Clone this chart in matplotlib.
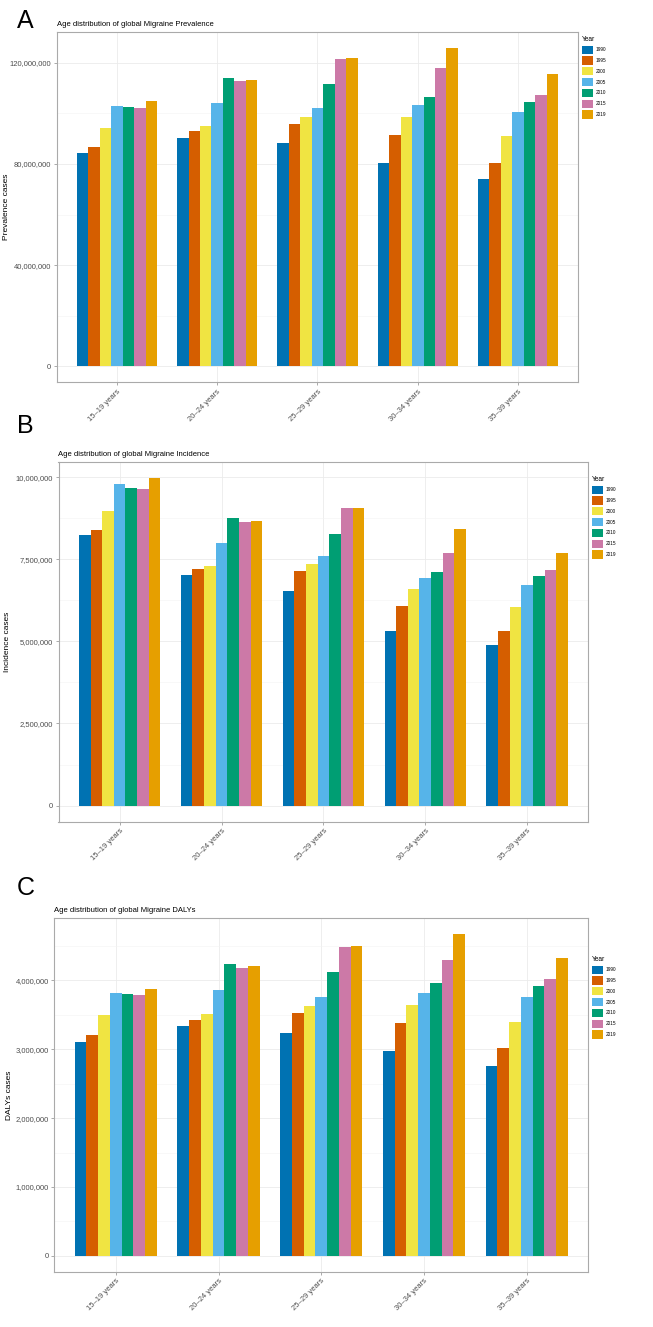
import numpy as np
import matplotlib.pyplot as plt
import matplotlib.ticker as ticker
from matplotlib.patches import Patch

plt.rcParams['font.family'] = ['Liberation Sans', 'DejaVu Sans']

age_groups = ["15–19 years", "20–24 years", "25–29 years", "30–34 years", "35–39 years"]
years = ["1990", "1995", "2000", "2005", "2010", "2015", "2019"]
year_colors = ["#0072B2", "#D55E00", "#F0E442", "#56B4E9", "#009E73", "#CC79A7", "#E69F00"]

# values in millions, one row per year, one column per age group
prevalence = [
    [84.3, 90.1, 88.2, 80.5, 74.0],
    [86.7, 92.9, 95.9, 91.6, 80.5],
    [94.2, 94.9, 98.5, 98.5, 91.2],
    [102.8, 104.2, 102.2, 103.4, 100.4],
    [102.5, 113.9, 111.6, 106.6, 104.6],
    [102.0, 112.6, 121.3, 118.0, 107.4],
    [104.7, 113.3, 122.0, 125.8, 115.7],
]
incidence = [
    [8.25, 7.02, 6.52, 5.32, 4.90],
    [8.39, 7.20, 7.15, 6.08, 5.32],
    [8.96, 7.30, 7.35, 6.60, 6.05],
    [9.78, 7.98, 7.60, 6.93, 6.70],
    [9.67, 8.76, 8.27, 7.10, 6.98],
    [9.63, 8.63, 9.05, 7.70, 7.18],
    [9.96, 8.65, 9.05, 8.43, 7.70],
]
dalys = [
    [3.11, 3.33, 3.24, 2.97, 2.76],
    [3.20, 3.43, 3.52, 3.38, 3.01],
    [3.49, 3.51, 3.62, 3.64, 3.40],
    [3.81, 3.86, 3.76, 3.82, 3.75],
    [3.80, 4.24, 4.12, 3.96, 3.91],
    [3.78, 4.18, 4.48, 4.29, 4.02],
    [3.88, 4.20, 4.50, 4.67, 4.33],
]

W, H = 653, 1327
fig = plt.figure(figsize=(W / 100, H / 100), dpi=100)


def px_axes(x0, y0, x1, y1):
    return fig.add_axes([x0 / W, 1 - y1 / H, (x1 - x0) / W, (y1 - y0) / H])


def panel(box, data, letter, letter_y, title, ylabel, ylabel_x, major, minor, legend_y):
    ax = px_axes(*box)
    vals = np.array(data) * 1e6
    x = np.arange(len(age_groups))
    n = len(years)
    w = 0.8 / n
    for i in range(n):
        ax.bar(x - 0.4 + w * (i + 0.5), vals[i], width=w, color=year_colors[i],
               linewidth=0, zorder=3)
    vmax = vals.max()
    ax.set_ylim(-0.05 * vmax, 1.05 * vmax)
    ax.set_xlim(-0.6, len(age_groups) - 0.4)
    ax.yaxis.set_major_locator(ticker.MultipleLocator(major))
    ax.yaxis.set_minor_locator(ticker.MultipleLocator(minor))
    ax.yaxis.set_major_formatter(ticker.FuncFormatter(lambda v, _: f'{v:,.0f}'))
    ax.set_xticks(x)
    ax.set_xticklabels(age_groups, rotation=45, ha='right', rotation_mode='anchor')
    ax.grid(True, which='major', color='#EBEBEB', linewidth=0.6, zorder=0)
    ax.grid(True, which='minor', axis='y', color='#F3F3F3', linewidth=0.4, zorder=0)
    ax.tick_params(axis='both', which='major', labelsize=5.5, labelcolor='#4D4D4D',
                   color='#888888', length=2.5, width=0.5, pad=1.5)
    ax.tick_params(axis='y', which='minor', length=0)
    for s in ax.spines.values():
        s.set_color('#AAAAAA')
        s.set_linewidth(0.8)
    ax.set_ylabel(ylabel, fontsize=6, va='center')
    # axis title centre, in figure pixels
    ax.yaxis.set_label_coords((ylabel_x - box[0]) / (box[2] - box[0]), 0.5)
    ax.set_title(title, fontsize=5.5, loc='left', pad=4)
    fig.text(17 / W, 1 - letter_y / H, letter, fontsize=18, va='baseline', ha='left')
    handles = [Patch(facecolor=c, edgecolor='none') for c in year_colors]
    leg = ax.legend(handles, years, title='Year', loc='upper left',
                    bbox_to_anchor=(box[2] / W + 0.005, 1 - legend_y / H),
                    bbox_transform=fig.transFigure, frameon=False, fontsize=3.4,
                    title_fontsize=4.8, handlelength=2.4, handleheight=2.3,
                    labelspacing=0.55, handletextpad=0.6, borderaxespad=0, borderpad=0)
    leg._legend_box.align = 'left'
    return ax


panel((56.7, 32, 578.3, 382.4), prevalence, 'A', 28,
      'Age distribution of global Migraine Prevalence', 'Prevalence cases', 6,
      40e6, 20e6, 36)
panel((58.5, 462, 588.3, 822), incidence, 'B', 433,
      'Age distribution of global Migraine Incidence', 'Incidence cases', 8,
      2.5e6, 1.25e6, 476)
panel((54.2, 918, 588.3, 1272), dalys, 'C', 895,
      'Age distribution of global Migraine DALYs', 'DALYs cases', 10,
      1e6, 0.5e6, 956)

fig.savefig('out.png', dpi=100)
